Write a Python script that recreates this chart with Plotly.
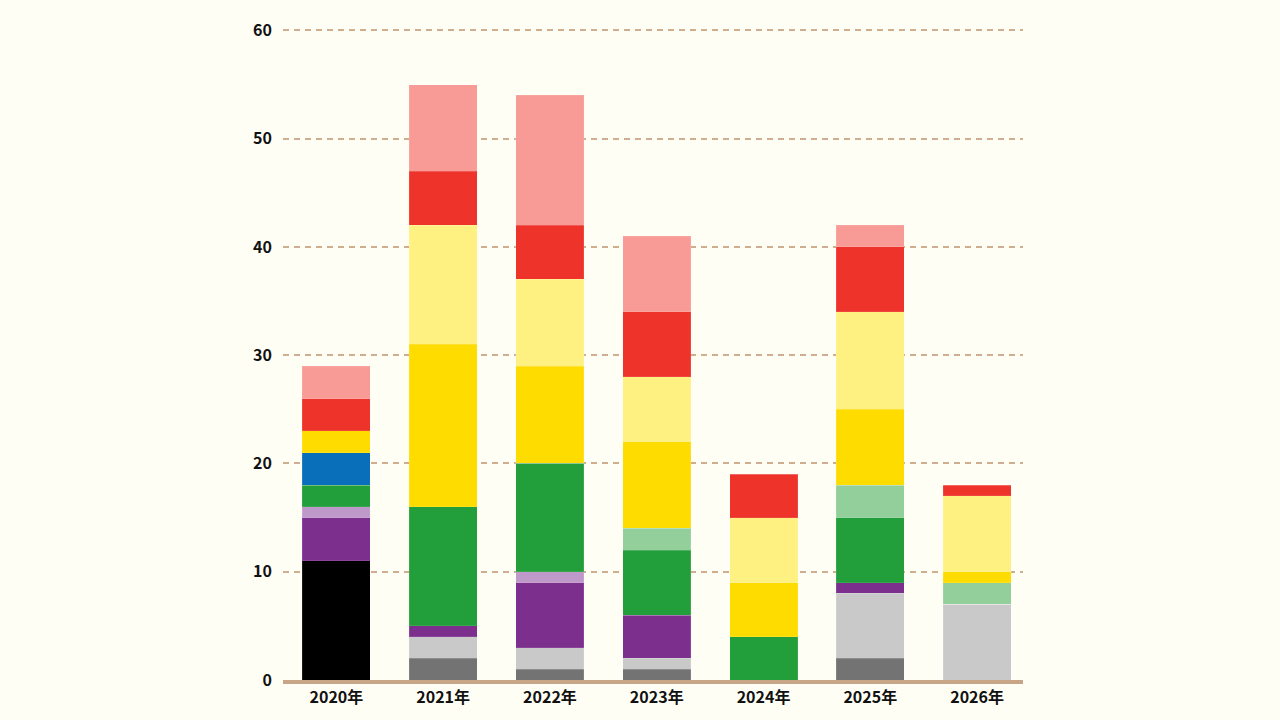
import plotly.graph_objects as go

categories = ["2020年", "2021年", "2022年", "2023年", "2024年", "2025年", "2026年"]

black = [11, 0, 0, 0, 0, 0, 0]
dark_gray = [0, 2, 1, 1, 0, 2, 0]
light_gray = [0, 2, 2, 1, 0, 6, 7]
purple = [4, 1, 6, 4, 0, 1, 0]
light_purple = [1, 0, 1, 0, 0, 0, 0]
green = [2, 11, 10, 6, 4, 6, 0]
light_green = [0, 0, 0, 2, 0, 3, 2]
blue = [3, 0, 0, 0, 0, 0, 0]
gold = [2, 15, 9, 8, 5, 7, 1]
light_yellow = [0, 11, 8, 6, 6, 9, 7]
red = [3, 5, 5, 6, 4, 6, 1]
pink = [3, 8, 12, 7, 0, 2, 0]

series = [
    ("black", black, "#000000"),
    ("dark_gray", dark_gray, "#737373"),
    ("light_gray", light_gray, "#c9c9c9"),
    ("purple", purple, "#7d2f8e"),
    ("light_purple", light_purple, "#bf99c9"),
    ("green", green, "#229e3a"),
    ("light_green", light_green, "#93cf9b"),
    ("blue", blue, "#0a6fba"),
    ("gold", gold, "#ffdc00"),
    ("light_yellow", light_yellow, "#fff082"),
    ("red", red, "#ee332b"),
    ("pink", pink, "#f89a96"),
]

fig = go.Figure()
for name, vals, col in series:
    fig.add_trace(go.Bar(
        x=categories, y=vals, name=name,
        marker=dict(color=col, line=dict(color="rgba(255,255,255,0.2)", width=0.5)),
        hoverinfo="skip",
    ))

tick_font = dict(family="Noto Sans CJK JP", size=16, color="#111111", weight="bold")

fig.update_layout(
    barmode="stack",
    bargap=0.363,
    width=1280, height=720,
    margin=dict(l=283, r=257, t=25, b=40),
    paper_bgcolor="#fffef5",
    plot_bgcolor="#fffef5",
    showlegend=False,
    font=dict(family="Noto Sans CJK JP", size=16, color="#111111"),
    xaxis=dict(
        range=[-0.5, 6.43],
        showgrid=False, showline=True, linecolor="#c8a586", linewidth=4,
        ticks="", tickfont=tick_font,
    ),
    yaxis=dict(
        range=[0, 60.5], tickvals=[0, 10, 20, 30, 40, 50, 60],
        showgrid=True, gridcolor="#cfae8f", griddash="6px,5px", gridwidth=1.6,
        zeroline=False, showline=False, ticks="", ticklabelstandoff=10,
        tickfont=tick_font,
    ),
)

fig.write_html("out.html")
